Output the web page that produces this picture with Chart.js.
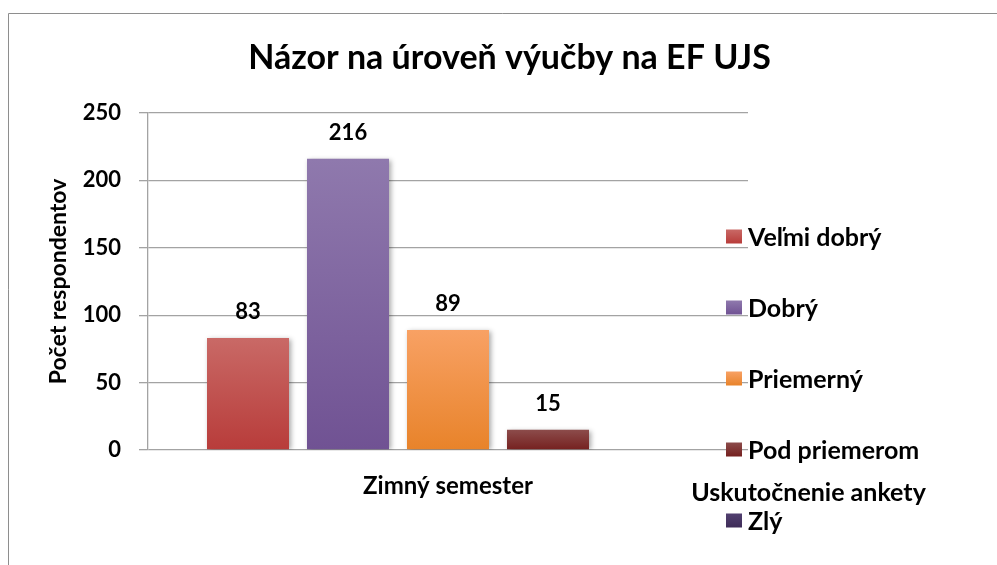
<!DOCTYPE html>
<html><head><meta charset="utf-8">
<script src="https://cdn.jsdelivr.net/npm/chart.js@4.4.1/dist/chart.umd.min.js"></script>
<style>html,body{margin:0;padding:0;background:#fff}</style>
</head><body><canvas id="c" width="997" height="565"></canvas>
<script>
// ---- data ----
const categories = ['Zimný semester'];
const seriesNames = ['Veľmi dobrý', 'Dobrý', 'Priemerný', 'Pod priemerom', 'Zlý'];
const velmiDobry = [83];
const dobry = [216];
const priemerny = [89];
const podPriemerom = [15];
const zly = [null];
const yTicks = [0, 50, 100, 150, 200, 250];
const chartTitle = 'Názor na úroveň výučby na EF UJS';
const yTitle = 'Počet respondentov';
const xTitle = 'Uskutočnenie ankety';

// ---- styles ----
const seriesValues = [velmiDobry, dobry, priemerny, podPriemerom, zly];
const gradTop = ['#c96966', '#8f79ad', '#f8a164', '#8c4c4b', '#524070'];
const gradBot = ['#b83c3a', '#705293', '#e8832a', '#75201f', '#3e2c58'];
const FONT = 'Lato, "Open Sans", sans-serif';
const GRID = '#a3a3a3';

function barGradient(ctx) {
  const chart = ctx.chart;
  const i = ctx.datasetIndex;
  const ys = chart.scales.y;
  if (!ys || ctx.raw == null) return gradBot[i];
  const top = ys.getPixelForValue(ctx.raw);
  const base = ys.getPixelForValue(0);
  if (!isFinite(top) || !isFinite(base) || top === base) return gradBot[i];
  const g = chart.ctx.createLinearGradient(0, top, 0, base);
  g.addColorStop(0, gradTop[i]);
  g.addColorStop(1, gradBot[i]);
  return g;
}

const decor = {
  id: 'decor',
  beforeDraw(chart) {
    const c = chart.ctx;
    c.save();
    c.fillStyle = '#fff';
    c.fillRect(0, 0, chart.width, chart.height);
    c.strokeStyle = '#8e8e8e';
    c.lineWidth = 1;
    c.beginPath();
    c.moveTo(8.5, chart.height);
    c.lineTo(8.5, 13.5);
    c.lineTo(chart.width, 13.5);
    c.stroke();
    c.restore();
  },
  beforeDatasetsDraw(chart) {
    const c = chart.ctx;
    c.save();
    c.shadowColor = 'rgba(0,0,0,0.35)';
    c.shadowBlur = 5;
    c.shadowOffsetX = 2;
    c.shadowOffsetY = 1;
  },
  afterDatasetsDraw(chart) {
    const c = chart.ctx;
    c.restore();
    c.save();
    c.fillStyle = '#000';
    c.font = 'bold 22px ' + FONT;
    c.textAlign = 'center';
    c.textBaseline = 'alphabetic';
    chart.data.datasets.forEach((ds, di) => {
      const meta = chart.getDatasetMeta(di);
      meta.data.forEach((el, j) => {
        const v = ds.data[j];
        if (v == null) return;
        c.fillText(String(v), el.x, el.y - 19);
      });
    });
    // legend
    const lx = 726, ly0 = 236.5, step = 71;
    c.textAlign = 'left';
    c.textBaseline = 'middle';
    c.font = 'bold 25px ' + FONT;
    chart.data.datasets.forEach((ds, di) => {
      const cy = ly0 + di * step;
      const g = c.createLinearGradient(0, cy - 7, 0, cy + 7);
      g.addColorStop(0, gradTop[di]);
      g.addColorStop(1, gradBot[di]);
      c.fillStyle = g;
      c.fillRect(lx, cy - 7, 16, 14);
      c.fillStyle = '#000';
      c.fillText(ds.label, lx + 22, cy + 1);
    });
    // axis title (category axis)
    c.textAlign = 'center';
    c.fillText(xTitle, 808.5, 493);
    c.restore();
  }
};

new Chart(document.getElementById('c'), {
  type: 'bar',
  data: {
    labels: categories,
    datasets: seriesValues.map((vals, i) => ({
      label: seriesNames[i],
      data: vals,
      backgroundColor: barGradient,
      borderWidth: 0,
      categoryPercentage: 500 / 600,
      barPercentage: 0.82
    }))
  },
  options: {
    responsive: false,
    animation: false,
    devicePixelRatio: 1,
    layout: { padding: { left: 22, right: 0, top: 0, bottom: 0 } },
    plugins: {
      legend: { display: false },
      tooltip: { enabled: false },
      title: {
        display: true,
        text: chartTitle,
        color: '#000',
        font: { family: FONT, size: 34, weight: 'bold' },
        padding: { top: 38, bottom: 34.2 }
      }
    },
    scales: {
      x: {
        grid: { display: false, drawTicks: false },
        border: { display: false },
        ticks: { color: '#000', font: { family: FONT, size: 24, weight: 'bold' }, padding: 22 },
        afterFit(s) { s.height = 115; }
      },
      y: {
        min: 0, max: 250,
        afterBuildTicks(s) { s.ticks = yTicks.map(v => ({ value: v })); },
        grid: { color: GRID, lineWidth: 1.3, tickLength: 9, drawTicks: true },
        border: { display: true, color: GRID, width: 1.3 },
        ticks: { color: '#000', font: { family: FONT, size: 22, weight: 'bold' }, padding: 18 },
        title: {
          display: true, text: yTitle, color: '#000',
          font: { family: FONT, size: 23, weight: 'bold' },
          padding: { top: 23, bottom: 0 }
        },
        afterFit(s) { s.width = 126; }
      },
      yR: {
        type: 'linear', position: 'right', display: true,
        grid: { display: false }, border: { display: false },
        ticks: { display: false },
        afterFit(s) { s.width = 249; }
      }
    }
  },
  plugins: [decor]
});
</script>
</body></html>
